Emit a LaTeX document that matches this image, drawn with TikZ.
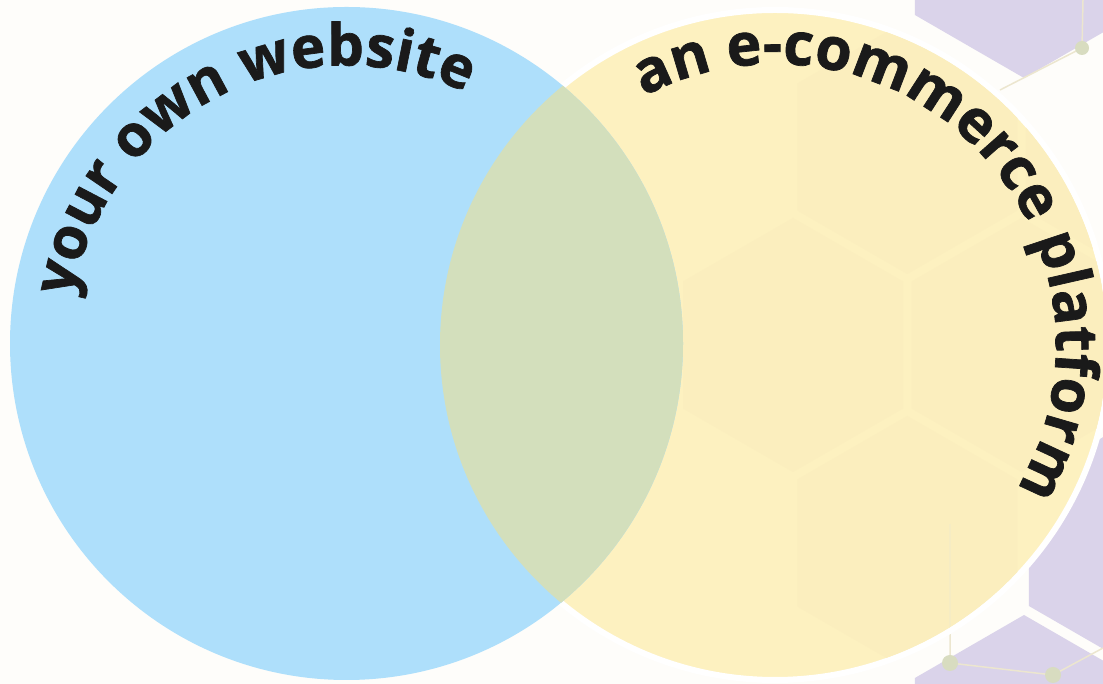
\documentclass[tikz,border=0pt]{standalone}
\usepackage{fontspec}
\newfontfamily\vennfam{Open Sans}[BoldFeatures={FakeBold=1.2}]
\usetikzlibrary{decorations.text}
\definecolor{bgc}{HTML}{FEFDFA}
\definecolor{bluec}{HTML}{AEDFFB}
\definecolor{yellowc}{HTML}{FDF1C0}
\definecolor{greenc}{HTML}{D3DFBC}
\definecolor{hexyel}{HTML}{FBEEBE}
\definecolor{gapyel}{HTML}{FDF2C3}
\definecolor{lav}{HTML}{DAD3EA}
\definecolor{dotc}{HTML}{D8DCC0}
\definecolor{linec}{HTML}{ECE6CF}
\definecolor{txt}{HTML}{1A1A1A}
\newcommand\vennfontA{\vennfam\bfseries\fontsize{58}{62}\selectfont\color{txt}}
\newcommand\vennfontB{\vennfam\bfseries\fontsize{59}{62}\selectfont\color{txt}}
\tikzset{
  lavcell/.style={fill=lav},
  tintcell/.style={fill=hexyel},
  paleline/.style={draw=linec, line width=1.5pt},
  paledot/.style={fill=dotc},
}
\begin{document}
\begin{tikzpicture}[x=1pt,y=1pt]
\useasboundingbox (0,0) rectangle (1103,684);
\fill[bgc] (0,0) rectangle (1103,684);
\coordinate (cw) at (346.5,340.5);
\coordinate (ce) at (775,339);
% lavender hexagon cells
\foreach \cx/\cy in {1024/732, 1138/141, 1024/-57}{
  \path[lavcell] (\cx,\cy+126) -- (\cx+109.1,\cy+63) -- (\cx+109.1,\cy-63) -- (\cx,\cy-126) -- (\cx-109.1,\cy-63) -- (\cx-109.1,\cy+63) -- cycle;
}
% faint network lines and dots
\coordinate (d1) at (1082,636);
\coordinate (d2) at (1000,594);
\coordinate (d3) at (1083,684);
\coordinate (d4) at (950,21);
\coordinate (d5) at (950,160);
\coordinate (d6) at (1053,9);
\coordinate (d7) at (1103,36);
\draw[paleline] (d3) -- (d1) -- (d2);
\draw[paleline] (d5) -- (d4) -- (d6) -- (d7);
% yellow circle with white rim
\fill[yellowc, draw=white, line width=6pt] (ce) circle[radius=335];
% hex tint inside yellow
\begin{scope}
  \clip (ce) circle[radius=332];
  \foreach \cx/\cy in {793/339, 1021.6/339, 907.3/537, 907.3/141, 1135.9/537}{
    \path[tintcell] (\cx,\cy+127) -- (\cx+110,\cy+63.5) -- (\cx+110,\cy-63.5) -- (\cx,\cy-127) -- (\cx-110,\cy-63.5) -- (\cx-110,\cy+63.5) -- cycle;
  }
  \draw[paleline, draw=hexyel!70!linec] (d5) -- (d4);
\end{scope}
\fill[paledot] (d1) circle[radius=7];
\fill[paledot] (d4) circle[radius=8];
\fill[paledot] (d6) circle[radius=8];
% blue circle
\fill[bluec] (cw) circle[radius=336.5];
% overlap
\begin{scope}
  \clip (ce) circle[radius=335];
  \fill[greenc] (cw) circle[radius=336.5];
\end{scope}
% curved labels
\path[decorate, decoration={text along path, text align=center,
   text={|\vennfontA|your own website}}]
   ([shift={(207.5:278)}]cw) arc[start angle=207.5, end angle=27.5, radius=278];
\path[decorate, decoration={text along path, text align=center,
   text={|\vennfontB|an e-commerce platform}}]
   ([shift={(133.5:281)}]ce) arc[start angle=133.5, end angle=-46.5, radius=281];
\end{tikzpicture}
\end{document}
